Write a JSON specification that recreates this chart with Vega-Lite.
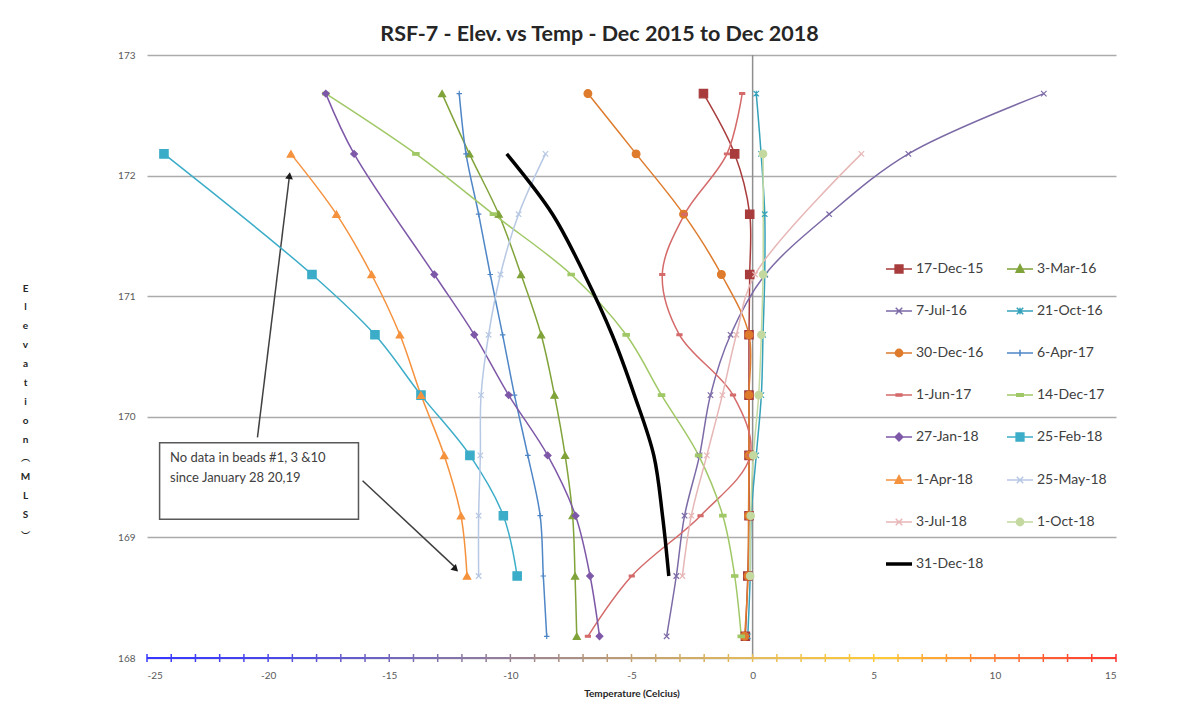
{
  "$schema": "https://vega.github.io/schema/vega-lite/v6.json",
  "width": 969,
  "height": 603,
  "autosize": "none",
  "padding": {"left": 147, "top": 55, "right": 77, "bottom": 54},
  "background": "white",
  "config": {"view": {"stroke": null}, "font": "Lato"},
  "title": {
    "text": "RSF-7 - Elev. vs Temp - Dec 2015 to Dec 2018",
    "font": "Lato", "fontSize": 21.5, "fontWeight": "bold", "color": "#262626",
    "anchor": "middle", "frame": "group", "dx": -32, "dy": 25, "offset": 13, "baseline": "alphabetic"
  },
  "datasets": {
    "axisTicks": [
      {"t": -25, "t_next": -24}, {"t": -24, "t_next": -23}, {"t": -23, "t_next": -22}, {"t": -22, "t_next": -21},
      {"t": -21, "t_next": -20}, {"t": -20, "t_next": -19}, {"t": -19, "t_next": -18}, {"t": -18, "t_next": -17},
      {"t": -17, "t_next": -16}, {"t": -16, "t_next": -15}, {"t": -15, "t_next": -14}, {"t": -14, "t_next": -13},
      {"t": -13, "t_next": -12}, {"t": -12, "t_next": -11}, {"t": -11, "t_next": -10}, {"t": -10, "t_next": -9},
      {"t": -9, "t_next": -8}, {"t": -8, "t_next": -7}, {"t": -7, "t_next": -6}, {"t": -6, "t_next": -5},
      {"t": -5, "t_next": -4}, {"t": -4, "t_next": -3}, {"t": -3, "t_next": -2}, {"t": -2, "t_next": -1},
      {"t": -1, "t_next": 0}, {"t": 0, "t_next": 1}, {"t": 1, "t_next": 2}, {"t": 2, "t_next": 3},
      {"t": 3, "t_next": 4}, {"t": 4, "t_next": 5}, {"t": 5, "t_next": 6}, {"t": 6, "t_next": 7},
      {"t": 7, "t_next": 8}, {"t": 8, "t_next": 9}, {"t": 9, "t_next": 10}, {"t": 10, "t_next": 11},
      {"t": 11, "t_next": 12}, {"t": 12, "t_next": 13}, {"t": 13, "t_next": 14}, {"t": 14, "t_next": 15},
      {"t": 15, "t_next": 15}
    ],
    "temps": [
      {"series": "17-Dec-15", "elev": 172.68, "temp": -2.03},
      {"series": "17-Dec-15", "elev": 172.18, "temp": -0.74},
      {"series": "17-Dec-15", "elev": 171.68, "temp": -0.12},
      {"series": "17-Dec-15", "elev": 171.18, "temp": -0.12},
      {"series": "17-Dec-15", "elev": 170.68, "temp": -0.15},
      {"series": "17-Dec-15", "elev": 170.18, "temp": -0.15},
      {"series": "17-Dec-15", "elev": 169.68, "temp": -0.15},
      {"series": "17-Dec-15", "elev": 169.18, "temp": -0.15},
      {"series": "17-Dec-15", "elev": 168.68, "temp": -0.2},
      {"series": "17-Dec-15", "elev": 168.18, "temp": -0.3},

      {"series": "3-Mar-16", "elev": 172.68, "temp": -12.82},
      {"series": "3-Mar-16", "elev": 172.18, "temp": -11.69},
      {"series": "3-Mar-16", "elev": 171.68, "temp": -10.48},
      {"series": "3-Mar-16", "elev": 171.18, "temp": -9.56},
      {"series": "3-Mar-16", "elev": 170.68, "temp": -8.73},
      {"series": "3-Mar-16", "elev": 170.18, "temp": -8.18},
      {"series": "3-Mar-16", "elev": 169.68, "temp": -7.74},
      {"series": "3-Mar-16", "elev": 169.18, "temp": -7.43},
      {"series": "3-Mar-16", "elev": 168.68, "temp": -7.33},
      {"series": "3-Mar-16", "elev": 168.18, "temp": -7.26},

      {"series": "7-Jul-16", "elev": 172.68, "temp": 12.02},
      {"series": "7-Jul-16", "elev": 172.18, "temp": 6.43},
      {"series": "7-Jul-16", "elev": 171.68, "temp": 3.16},
      {"series": "7-Jul-16", "elev": 171.18, "temp": 0.52},
      {"series": "7-Jul-16", "elev": 170.68, "temp": -0.91},
      {"series": "7-Jul-16", "elev": 170.18, "temp": -1.74},
      {"series": "7-Jul-16", "elev": 169.68, "temp": -2.19},
      {"series": "7-Jul-16", "elev": 169.18, "temp": -2.81},
      {"series": "7-Jul-16", "elev": 168.68, "temp": -3.15},
      {"series": "7-Jul-16", "elev": 168.18, "temp": -3.55},

      {"series": "21-Oct-16", "elev": 172.68, "temp": 0.15},
      {"series": "21-Oct-16", "elev": 172.18, "temp": 0.35},
      {"series": "21-Oct-16", "elev": 171.68, "temp": 0.5},
      {"series": "21-Oct-16", "elev": 171.18, "temp": 0.5},
      {"series": "21-Oct-16", "elev": 170.68, "temp": 0.43},
      {"series": "21-Oct-16", "elev": 170.18, "temp": 0.36},
      {"series": "21-Oct-16", "elev": 169.68, "temp": 0.15},
      {"series": "21-Oct-16", "elev": 169.18, "temp": -0.06},
      {"series": "21-Oct-16", "elev": 168.68, "temp": -0.1},
      {"series": "21-Oct-16", "elev": 168.18, "temp": -0.2},

      {"series": "30-Dec-16", "elev": 172.68, "temp": -6.8},
      {"series": "30-Dec-16", "elev": 172.18, "temp": -4.81},
      {"series": "30-Dec-16", "elev": 171.68, "temp": -2.85},
      {"series": "30-Dec-16", "elev": 171.18, "temp": -1.29},
      {"series": "30-Dec-16", "elev": 170.68, "temp": -0.15},
      {"series": "30-Dec-16", "elev": 170.18, "temp": -0.15},
      {"series": "30-Dec-16", "elev": 169.68, "temp": -0.15},
      {"series": "30-Dec-16", "elev": 169.18, "temp": -0.17},
      {"series": "30-Dec-16", "elev": 168.68, "temp": -0.19},
      {"series": "30-Dec-16", "elev": 168.18, "temp": -0.33},

      {"series": "6-Apr-17", "elev": 172.68, "temp": -12.11},
      {"series": "6-Apr-17", "elev": 172.18, "temp": -11.83},
      {"series": "6-Apr-17", "elev": 171.68, "temp": -11.31},
      {"series": "6-Apr-17", "elev": 171.18, "temp": -10.83},
      {"series": "6-Apr-17", "elev": 170.68, "temp": -10.32},
      {"series": "6-Apr-17", "elev": 170.18, "temp": -9.83},
      {"series": "6-Apr-17", "elev": 169.68, "temp": -9.28},
      {"series": "6-Apr-17", "elev": 169.18, "temp": -8.77},
      {"series": "6-Apr-17", "elev": 168.68, "temp": -8.64},
      {"series": "6-Apr-17", "elev": 168.18, "temp": -8.5},

      {"series": "1-Jun-17", "elev": 172.68, "temp": -0.43},
      {"series": "1-Jun-17", "elev": 172.18, "temp": -1.06},
      {"series": "1-Jun-17", "elev": 171.68, "temp": -2.81},
      {"series": "1-Jun-17", "elev": 171.18, "temp": -3.73},
      {"series": "1-Jun-17", "elev": 170.68, "temp": -3.02},
      {"series": "1-Jun-17", "elev": 170.18, "temp": -0.81},
      {"series": "1-Jun-17", "elev": 169.68, "temp": -0.1},
      {"series": "1-Jun-17", "elev": 169.18, "temp": -2.15},
      {"series": "1-Jun-17", "elev": 168.68, "temp": -4.99},
      {"series": "1-Jun-17", "elev": 168.18, "temp": -6.8},

      {"series": "14-Dec-17", "elev": 172.68, "temp": -17.62},
      {"series": "14-Dec-17", "elev": 172.18, "temp": -13.9},
      {"series": "14-Dec-17", "elev": 171.68, "temp": -10.7},
      {"series": "14-Dec-17", "elev": 171.18, "temp": -7.49},
      {"series": "14-Dec-17", "elev": 170.68, "temp": -5.22},
      {"series": "14-Dec-17", "elev": 170.18, "temp": -3.76},
      {"series": "14-Dec-17", "elev": 169.68, "temp": -2.23},
      {"series": "14-Dec-17", "elev": 169.18, "temp": -1.23},
      {"series": "14-Dec-17", "elev": 168.68, "temp": -0.74},
      {"series": "14-Dec-17", "elev": 168.18, "temp": -0.47},

      {"series": "27-Jan-18", "elev": 172.68, "temp": -17.62},
      {"series": "27-Jan-18", "elev": 172.18, "temp": -16.45},
      {"series": "27-Jan-18", "elev": 171.18, "temp": -13.14},
      {"series": "27-Jan-18", "elev": 170.68, "temp": -11.49},
      {"series": "27-Jan-18", "elev": 170.18, "temp": -10.07},
      {"series": "27-Jan-18", "elev": 169.68, "temp": -8.46},
      {"series": "27-Jan-18", "elev": 169.18, "temp": -7.31},
      {"series": "27-Jan-18", "elev": 168.68, "temp": -6.71},
      {"series": "27-Jan-18", "elev": 168.18, "temp": -6.32},

      {"series": "25-Feb-18", "elev": 172.18, "temp": -24.3},
      {"series": "25-Feb-18", "elev": 171.18, "temp": -18.19},
      {"series": "25-Feb-18", "elev": 170.68, "temp": -15.59},
      {"series": "25-Feb-18", "elev": 170.18, "temp": -13.69},
      {"series": "25-Feb-18", "elev": 169.68, "temp": -11.67},
      {"series": "25-Feb-18", "elev": 169.18, "temp": -10.29},
      {"series": "25-Feb-18", "elev": 168.68, "temp": -9.72},

      {"series": "1-Apr-18", "elev": 172.18, "temp": -19.06},
      {"series": "1-Apr-18", "elev": 171.68, "temp": -17.18},
      {"series": "1-Apr-18", "elev": 171.18, "temp": -15.73},
      {"series": "1-Apr-18", "elev": 170.68, "temp": -14.56},
      {"series": "1-Apr-18", "elev": 170.18, "temp": -13.69},
      {"series": "1-Apr-18", "elev": 169.68, "temp": -12.73},
      {"series": "1-Apr-18", "elev": 169.18, "temp": -12.04},
      {"series": "1-Apr-18", "elev": 168.68, "temp": -11.79},

      {"series": "25-May-18", "elev": 172.18, "temp": -8.55},
      {"series": "25-May-18", "elev": 171.68, "temp": -9.66},
      {"series": "25-May-18", "elev": 171.18, "temp": -10.41},
      {"series": "25-May-18", "elev": 170.68, "temp": -10.9},
      {"series": "25-May-18", "elev": 170.18, "temp": -11.21},
      {"series": "25-May-18", "elev": 169.68, "temp": -11.24},
      {"series": "25-May-18", "elev": 169.18, "temp": -11.31},
      {"series": "25-May-18", "elev": 168.68, "temp": -11.31},

      {"series": "3-Jul-18", "elev": 172.18, "temp": 4.49},
      {"series": "3-Jul-18", "elev": 171.18, "temp": 0.1},
      {"series": "3-Jul-18", "elev": 170.68, "temp": -0.67},
      {"series": "3-Jul-18", "elev": 170.18, "temp": -1.25},
      {"series": "3-Jul-18", "elev": 169.68, "temp": -1.89},
      {"series": "3-Jul-18", "elev": 169.18, "temp": -2.53},
      {"series": "3-Jul-18", "elev": 168.68, "temp": -2.9},

      {"series": "1-Oct-18", "elev": 172.18, "temp": 0.43},
      {"series": "1-Oct-18", "elev": 171.18, "temp": 0.43},
      {"series": "1-Oct-18", "elev": 170.68, "temp": 0.36},
      {"series": "1-Oct-18", "elev": 170.18, "temp": 0.25},
      {"series": "1-Oct-18", "elev": 169.68, "temp": 0.03},
      {"series": "1-Oct-18", "elev": 169.18, "temp": -0.08},
      {"series": "1-Oct-18", "elev": 168.68, "temp": -0.1},

      {"series": "31-Dec-18", "elev": 172.18, "temp": -10.15},
      {"series": "31-Dec-18", "elev": 171.68, "temp": -8.26},
      {"series": "31-Dec-18", "elev": 171.18, "temp": -6.94},
      {"series": "31-Dec-18", "elev": 170.68, "temp": -5.8},
      {"series": "31-Dec-18", "elev": 170.18, "temp": -4.88},
      {"series": "31-Dec-18", "elev": 169.68, "temp": -4.08},
      {"series": "31-Dec-18", "elev": 169.18, "temp": -3.72},
      {"series": "31-Dec-18", "elev": 168.68, "temp": -3.46}
    ]
  },
  "layer": [
    {
      "data": {"values": [{"t": 0}]},
      "mark": {"type": "rule", "color": "#8f8f8f", "strokeWidth": 1.5},
      "encoding": {
        "x": {"field": "t", "type": "quantitative", "scale": {"domain": [-25, 15], "nice": false, "zero": false}}
      }
    },
    {
      "data": {"name": "axisTicks"},
      "transform": [{"filter": "datum.t < 15"}],
      "mark": {"type": "rule", "strokeWidth": 2},
      "encoding": {
        "x": {"field": "t", "type": "quantitative"},
        "x2": {"field": "t_next"},
        "y": {"datum": 168, "type": "quantitative"},
        "stroke": {"field": "t", "type": "quantitative", "legend": null,
          "scale": {"domain": [-25, -20, -15, -10, -5, 0, 5, 10, 15],
                    "range": ["#3737ff", "#4c4ae6", "#7468bd", "#9a8494", "#c3a070", "#e6bd58", "#ffc935", "#ff7a35", "#ff2f2f"],
                    "interpolate": "rgb"}}
      }
    },
    {
      "data": {"name": "axisTicks"},
      "mark": {"type": "rule", "strokeWidth": 1.5},
      "encoding": {
        "x": {"field": "t", "type": "quantitative"},
        "y": {"datum": 167.967, "type": "quantitative"},
        "y2": {"datum": 168.033},
        "stroke": {"field": "t", "type": "quantitative", "legend": null}
      }
    },
    {
      "data": {"values": [{}]},
      "mark": {"type": "rule", "color": "#404040", "strokeWidth": 1.5},
      "encoding": {
        "x": {"datum": -20.44, "type": "quantitative"},
        "y": {"datum": 169.83, "type": "quantitative"},
        "x2": {"datum": -19.13},
        "y2": {"datum": 171.98}
      }
    },
    {
      "data": {"values": [{}]},
      "mark": {"type": "rule", "color": "#404040", "strokeWidth": 1.5},
      "encoding": {
        "x": {"datum": -16.1, "type": "quantitative"},
        "y": {"datum": 169.47, "type": "quantitative"},
        "x2": {"datum": -12.24},
        "y2": {"datum": 168.745}
      }
    },
    {
      "data": {"values": [{}]},
      "mark": {"type": "point", "shape": "triangle-up", "filled": true, "color": "#1a1a1a", "size": 60, "angle": 7, "opacity": 1},
      "encoding": {
        "x": {"datum": -19.12, "type": "quantitative"},
        "y": {"datum": 172.0, "type": "quantitative"}
      }
    },
    {
      "data": {"values": [{}]},
      "mark": {"type": "point", "shape": "triangle-up", "filled": true, "color": "#1a1a1a", "size": 60, "angle": 134, "opacity": 1},
      "encoding": {
        "x": {"datum": -12.26, "type": "quantitative"},
        "y": {"datum": 168.736, "type": "quantitative"}
      }
    },
    {
      "data": {"values": [{}]},
      "mark": {"type": "rect", "fill": "white", "stroke": "#595959", "strokeWidth": 1.5},
      "encoding": {
        "x": {"datum": -24.48, "type": "quantitative"},
        "x2": {"datum": -16.27},
        "y": {"datum": 169.785, "type": "quantitative"},
        "y2": {"datum": 169.15}
      }
    },
    {
      "data": {"values": [{}]},
      "mark": {"type": "text", "align": "left", "baseline": "middle", "font": "Lato", "fontSize": 13, "color": "#404040", "lineHeight": 20},
      "encoding": {
        "x": {"datum": -24.05, "type": "quantitative"},
        "y": {"datum": 169.66, "type": "quantitative"},
        "text": {"value": ["No data in beads #1, 3 &10", "since January 28 20,19"]}
      }
    },
    {
      "data": {"name": "temps"},
      "encoding": {
        "x": {"field": "temp", "type": "quantitative",
          "scale": {"domain": [-25, 15], "nice": false, "zero": false},
          "axis": {"values": [-25, -20, -15, -10, -5, 0, 5, 10, 15], "domain": false, "ticks": false, "grid": false,
            "labelExpr": "'' + datum.value", "labelFont": "Lato", "labelFontSize": 10, "labelColor": "#595959", "labelPadding": 12,
            "title": "Temperature (Celcius)", "titleFont": "Lato", "titleFontSize": 10, "titleFontWeight": "bold", "titleColor": "#262626", "titlePadding": 8}},
        "y": {"field": "elev", "type": "quantitative",
          "scale": {"domain": [168, 173], "nice": false, "zero": false},
          "axis": {"values": [168, 169, 170, 171, 172, 173], "format": "d", "domain": false, "ticks": false, "grid": true, "gridColor": "#ababab", "gridWidth": 1.5,
            "labelFont": "Lato", "labelFontSize": 10, "labelColor": "#595959", "labelPadding": 12,
            "title": ["E", "l", "e", "v", "a", "t", "i", "o", "n", "︵", "M", "L", "S", "︶"],
            "titleAngle": 0, "titleX": -122, "titleY": 228, "titleAlign": "center", "titleBaseline": "top",
            "titleFont": "Lato", "titleFontSize": 10, "titleFontWeight": "bold", "titleColor": "#262626", "titleLineHeight": 18.9}},
        "color": {"field": "series", "type": "nominal",
          "scale": {
            "domain": ["17-Dec-15", "3-Mar-16", "7-Jul-16", "21-Oct-16", "30-Dec-16", "6-Apr-17", "1-Jun-17", "14-Dec-17", "27-Jan-18", "25-Feb-18", "1-Apr-18", "25-May-18", "3-Jul-18", "1-Oct-18", "31-Dec-18"],
            "range": ["#a83c3c", "#80a33a", "#7c6aa6", "#36a2ba", "#de7b2c", "#4f86c6", "#d46a6a", "#a0c866", "#7e58a8", "#3cadc8", "#f5923e", "#b7c8e4", "#e6b7b6", "#c4d9a0", "#000000"]},
          "legend": {
            "orient": "none", "legendX": 745, "legendY": 207, "columns": 2, "direction": "horizontal", "title": null,
            "symbolSize": 676, "symbolType": "stroke", "symbolStrokeWidth": 1.5,
            "labelFont": "Lato", "labelFontSize": 14, "labelColor": "#404040", "labelOffset": 10,
            "rowPadding": 28, "columnPadding": 20,
            "encode": {
              "symbols": {
                "update": {
                  "shape": {"signal": "['M-1,0H1M-0.3,-0.3H0.3V0.3H-0.3Z','M-1,0H1M0,-0.33L0.3,0.25H-0.3Z','M-1,0H1M-0.25,-0.25L0.25,0.25M-0.25,0.25L0.25,-0.25','M-1,0H1M-0.25,-0.25L0.25,0.25M-0.25,0.25L0.25,-0.25M0,-0.25V0.25','M-1,0H1M0.28,0A0.28,0.28,0,1,1,-0.28,0A0.28,0.28,0,1,1,0.28,0Z','M-1,0H1M0,-0.25V0.25','M-1,0H1M-0.22,-0.08H0.22V0.08H-0.22Z','M-1,0H1M-0.25,-0.1H0.25V0.1H-0.25Z','M-1,0H1M0,-0.3L0.3,0L0,0.3L-0.3,0Z','M-1,0H1M-0.3,-0.3H0.3V0.3H-0.3Z','M-1,0H1M0,-0.33L0.3,0.25H-0.3Z','M-1,0H1M-0.25,-0.25L0.25,0.25M-0.25,0.25L0.25,-0.25','M-1,0H1M-0.25,-0.25L0.25,0.25M-0.25,0.25L0.25,-0.25','M-1,0H1M0.28,0A0.28,0.28,0,1,1,-0.28,0A0.28,0.28,0,1,1,0.28,0Z','M-1,0H1'][indexof(['17-Dec-15','3-Mar-16','7-Jul-16','21-Oct-16','30-Dec-16','6-Apr-17','1-Jun-17','14-Dec-17','27-Jan-18','25-Feb-18','1-Apr-18','25-May-18','3-Jul-18','1-Oct-18','31-Dec-18'], datum.value)]"},
                  "fill": {"signal": "scale('color', datum.value)"},
                  "stroke": {"signal": "scale('color', datum.value)"},
                  "strokeWidth": {"signal": "datum.value === '31-Dec-18' ? 3.5 : 1.5"},
                  "opacity": {"value": 1}
                }
              }
            }
          }
        }
      },
      "layer": [
        {
          "mark": {"type": "line", "interpolate": "catmull-rom"},
          "encoding": {
            "order": {"field": "elev", "sort": "descending"},
            "strokeWidth": {"condition": {"test": "datum.series === '31-Dec-18'", "value": 3.5}, "value": 1.5}
          }
        },
        {
          "mark": {"type": "point", "filled": true, "opacity": 1, "strokeWidth": 1.2,
            "stroke": {"expr": "scale('color', datum.series)"},
            "shape": {"expr": "['square','triangle-up','M-1,-1L1,1M-1,1L1,-1','M-1,-1L1,1M-1,1L1,-1M0,-1L0,1','circle','M-1,0L1,0M0,-1L0,1','M-1,-0.35H1V0.35H-1Z','M-1,-0.4H1V0.4H-1Z','diamond','square','triangle-up','M-1,-1L1,1M-1,1L1,-1','M-1,-1L1,1M-1,1L1,-1','circle','M0,0'][indexof(['17-Dec-15','3-Mar-16','7-Jul-16','21-Oct-16','30-Dec-16','6-Apr-17','1-Jun-17','14-Dec-17','27-Jan-18','25-Feb-18','1-Apr-18','25-May-18','3-Jul-18','1-Oct-18','31-Dec-18'], datum.series)]"},
            "size": {"expr": "[70,50,30,30,60,30,25,40,45,70,55,30,30,55,10][indexof(['17-Dec-15','3-Mar-16','7-Jul-16','21-Oct-16','30-Dec-16','6-Apr-17','1-Jun-17','14-Dec-17','27-Jan-18','25-Feb-18','1-Apr-18','25-May-18','3-Jul-18','1-Oct-18','31-Dec-18'], datum.series)]"}
          }
        }
      ]
    }
  ]
}
